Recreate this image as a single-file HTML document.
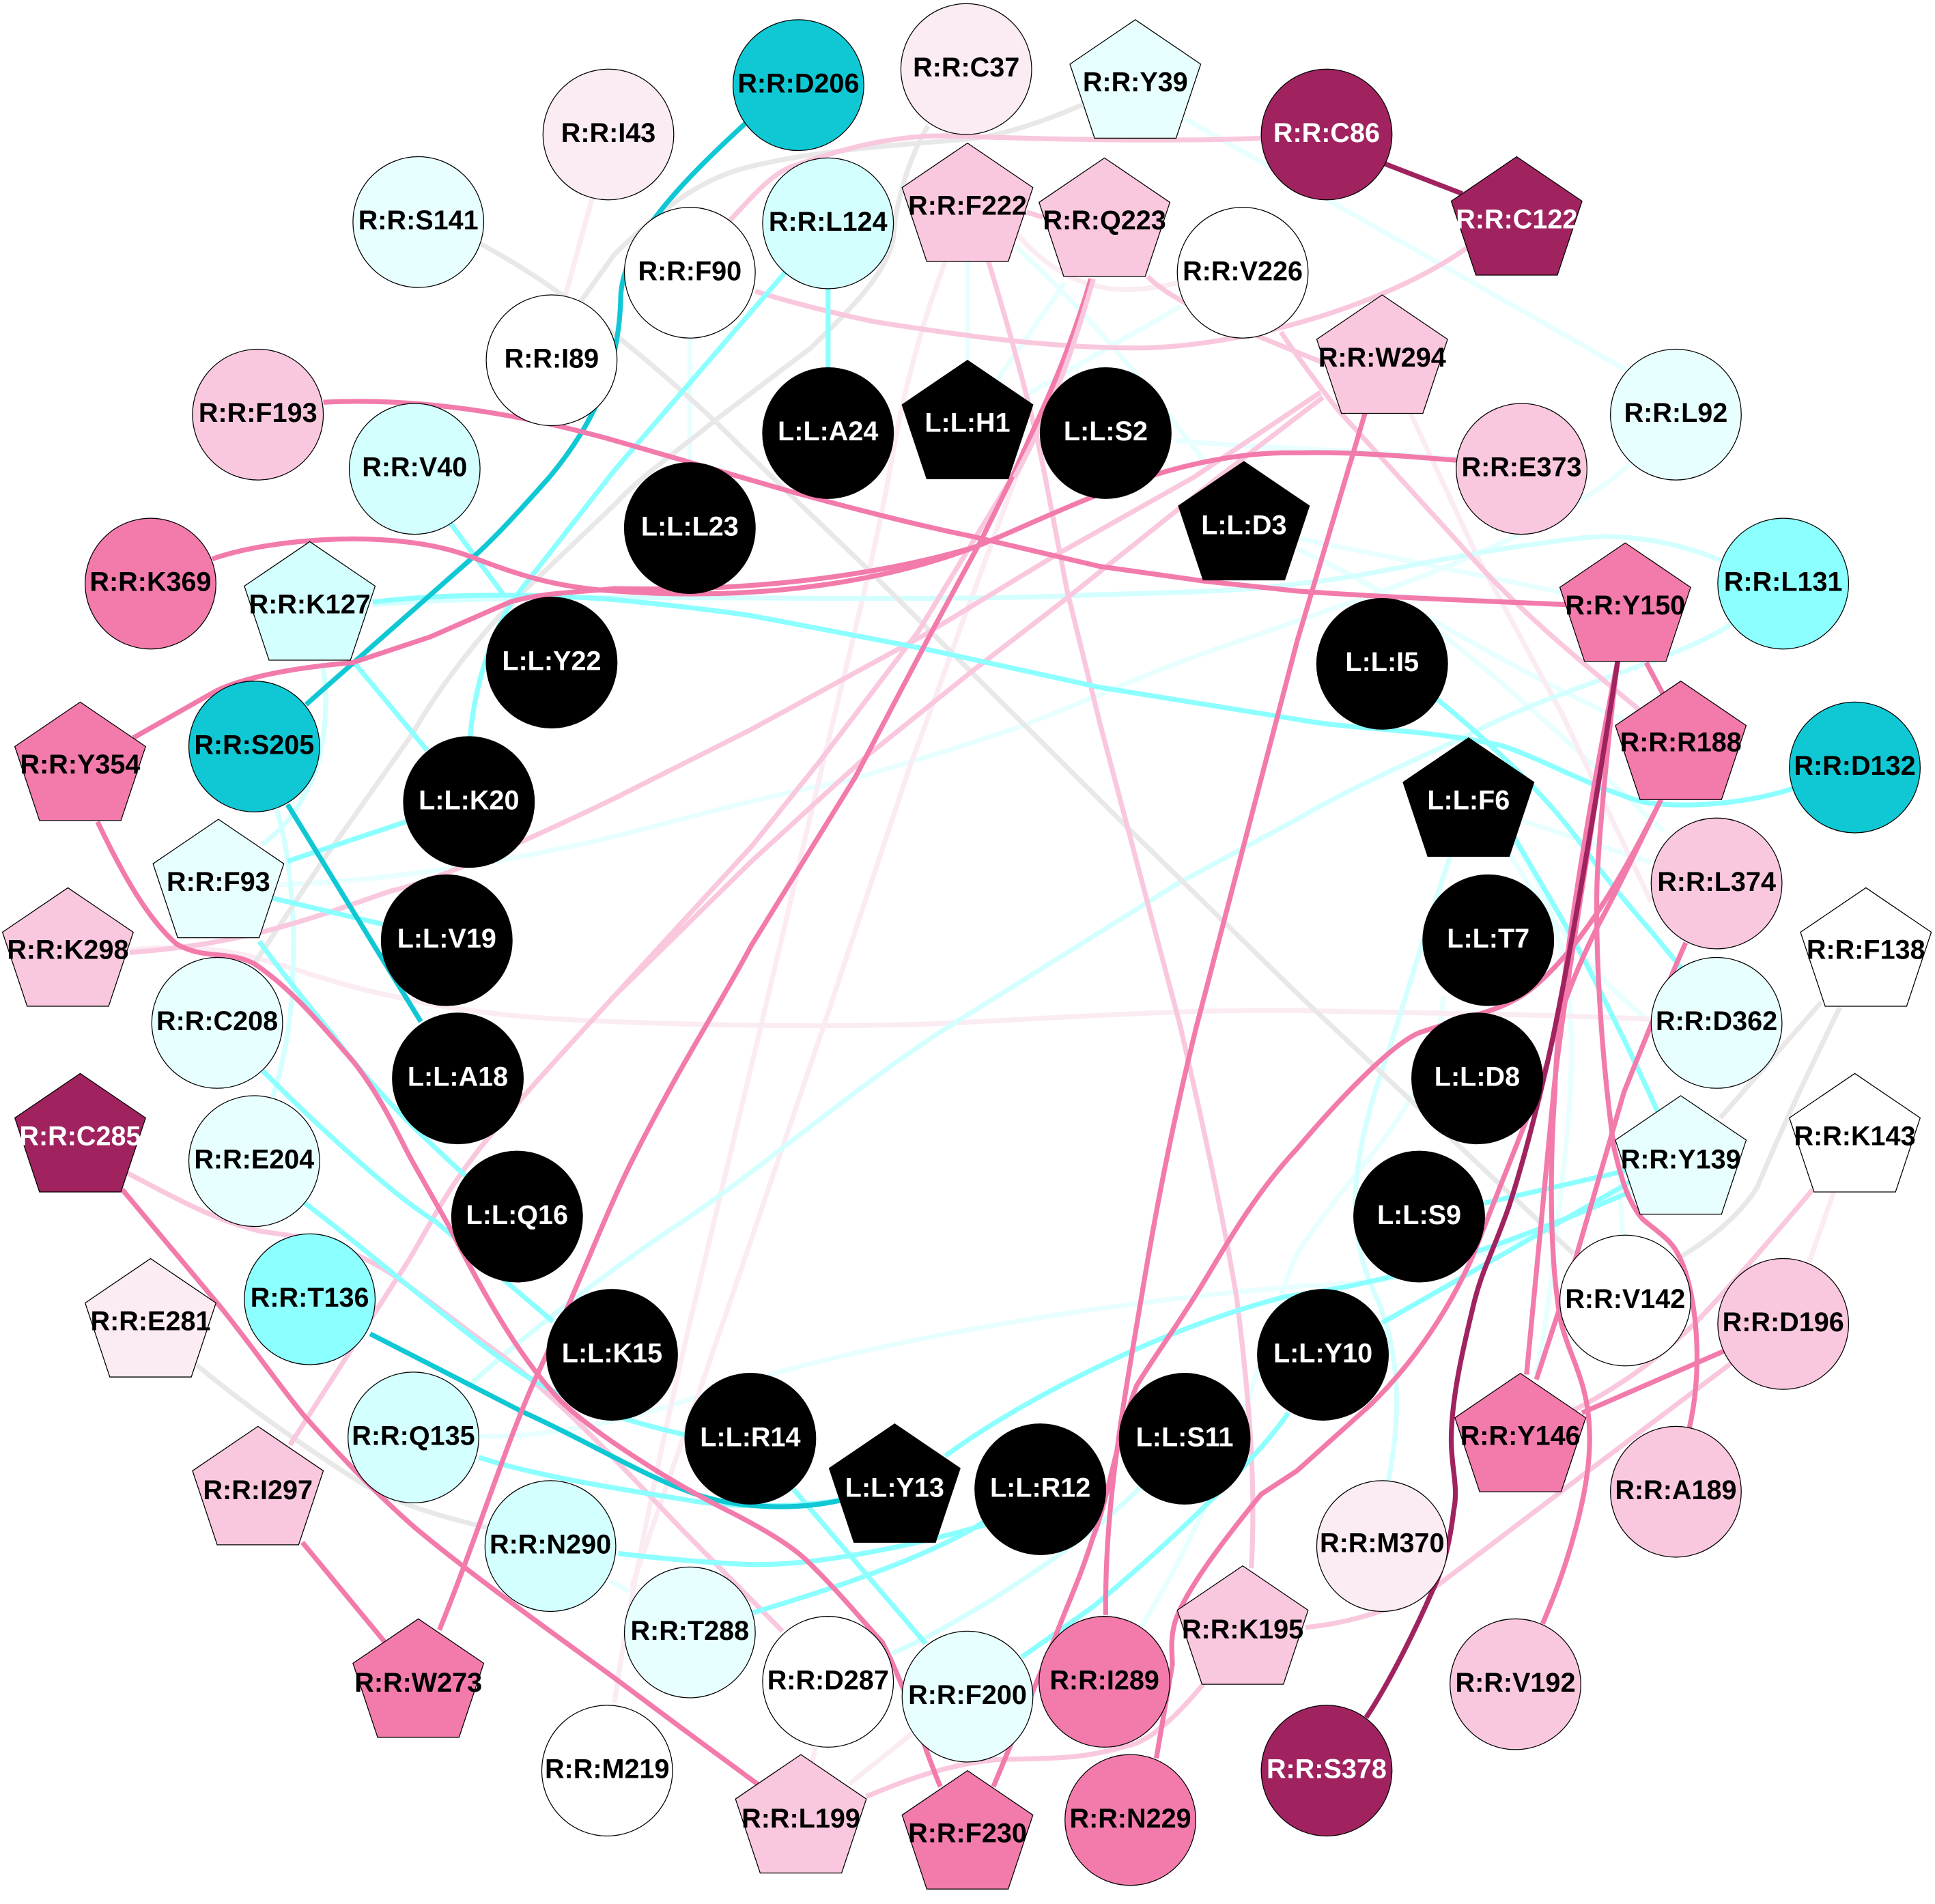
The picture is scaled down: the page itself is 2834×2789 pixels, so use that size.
<!DOCTYPE html>
<html><head><meta charset="utf-8"><style>
html,body{margin:0;padding:0;background:#fff}
svg{display:block}
text{font-family:"Liberation Sans",sans-serif;font-weight:bold;font-size:21.9px;text-anchor:middle;fill:#000}
text.w{fill:#fff}
.e path{fill:none;stroke-width:4}
circle,use{stroke:#000;stroke-width:.7}
.D{fill:#a02360}.M{fill:#f27bac}.P{fill:#f9c8de}.V{fill:#fbebf3}.N{fill:#fff}.X{fill:#e8ffff}.L{fill:#d4ffff}.C{fill:#8cffff}.T{fill:#10c8d4}.K{fill:#000}
</style></head><body>
<svg xmlns="http://www.w3.org/2000/svg" width="2834" height="2789" viewBox="0 0 1568 1543.1">
<defs><polygon id="p" points="0,-50 53,-14 33,46 -33,46 -53,-14"/></defs>
<rect width="1568" height="1544" fill="#fff"/>

<g class="e" stroke="#e8ffff">
<path d="M559,272L559,375"/>
<path d="M784,212L784,292"/>
<path d="M960,96L1318,300"/>
<path d="M957,248L823,325"/>
<path d="M863,229L808,308"/>
<path d="M823,200Q900,270 981,381"/>
<path d="M953,357C1000,362 1100,365 1182,372"/>
<path d="M1051,436L1265,480"/>
<path d="M1051,445C1127,478 1216,540 1321,586"/>
<path d="M1100,470C1163,498 1282,611 1348,674"/>
<path d="M1233,665L1338,699"/>
<path d="M1223,692C1262,755 1300,800 1340,830"/>
<path d="M1225,680C1290,770 1275,880 1262,991C1256,1050 1250,1090 1245,1114"/>
<path d="M1311,938L1315,1000"/>
<path d="M226,717C317,714 413,698 498,678C560,662 620,645 685,633C730,620 780,605 829,588C870,572 910,555 947,540C985,525 1020,515 1051,503C1150,470 1260,430 1321,376"/>
<path d="M388,1164C420,1165 480,1160 553,1136C700,1085 900,1055 1058,1042C1134,1040 1183,1030 1321,964"/>
<path d="M494,1281L510,1290"/>
<path d="M1170,807C1160,900 1100,940 1051,1016C1030,1060 1010,1180 925,1318"/>
</g>
<g class="e" stroke="#fbebf3">
<path d="M480,160L458,240"/>
<path d="M766,212C740,280 728,340 720,387C705,470 670,600 645,712L617,830L564,1051C545,1130 510,1290 498,1380"/>
<path d="M884,226C860,310 845,340 823,387L789,480C770,530 755,575 738,619L668,830L593,1051L512,1286"/>
<path d="M821,186C845,215 870,230 900,234C920,236 940,233 960,228"/>
<path d="M1143,335L1199,455L1266,579L1338,731"/>
<path d="M105,770C140,766 175,768 203,775C240,785 280,800 317,807C380,822 440,826 498,828C600,832 680,832 750,830C860,825 950,818 1051,819C1150,821 1250,822 1338,826"/>
<path d="M1486,966L1466,1023"/>
<path d="M739,1405L688,1446"/>
<path d="M661,1416L658,1428"/>
</g>
<g class="e" stroke="#d4ffff">
<path d="M1404,505C1360,535 1270,555 1199,591C1150,615 1100,635 1051,664L956,715L772,830C700,875 620,945 553,990C500,1025 420,1085 378,1125"/>
<path d="M302,490C450,478 700,490 891,482C950,480 1000,480 1051,473C1110,468 1183,447 1282,436C1320,432 1360,440 1394,454"/>
<path d="M1175,694C1150,770 1130,840 1114,885C1095,950 1090,1000 1117,1055C1135,1100 1135,1150 1125,1200"/>
<path d="M224,656C235,690 240,750 237,793C236,830 230,860 221,889"/>
<path d="M261,537C268,570 262,620 248,641C240,660 225,675 213,684"/>
<path d="M723,1340C770,1320 850,1270 902,1226C920,1210 935,1195 950,1180"/>
</g>
<g class="e" stroke="#e8e8e8">
<path d="M877,85C830,105 800,112 780,113C720,118 660,122 604,136C570,145 540,165 498,206L470,245"/>
<path d="M752,102C735,130 725,170 724,192C720,220 690,250 657,282L579,341C550,365 520,385 498,409L413,490C390,515 360,550 334,595L264,694L206,781"/>
<path d="M388,197Q470,240 579,341L626,387L705,463L913,670L1051,805L1275,1016"/>
<path d="M1476,812L1394,906"/>
<path d="M1491,816C1470,860 1450,900 1424,962C1410,985 1385,1005 1361,1019"/>
<path d="M159,1106C200,1140 250,1175 293,1202C325,1220 360,1230 395,1238"/>
</g>
<g class="e" stroke="#f9c8de">
<path d="M1022,112C950,115 851,113 766,110C720,110 681,121 639,136C620,145 605,165 591,179"/>
<path d="M612,236C640,245 680,255 710,261C780,272 850,282 921,282C1000,282 1120,250 1190,200"/>
<path d="M832,172L845,176"/>
<path d="M801,212C825,290 840,350 847,387L865,480L891,585L956,830C970,890 990,980 1002,1051C1012,1130 1018,1200 1014,1271"/>
<path d="M930,224C950,245 1000,265 1075,295"/>
<path d="M1038,269C1055,295 1084,332 1084,332L1183,441C1230,495 1280,535 1328,575"/>
<path d="M884,226C860,310 845,340 820,387L744,512L665,616L609,686L498,807C440,870 400,915 381,941C355,975 340,1010 321,1037L235,1171"/>
<path d="M1072,322L987,387L863,486L789,543L702,613L609,698L498,807"/>
<path d="M1070,318L967,387L857,449L750,514L609,591L498,647C430,680 350,715 317,722C250,745 200,765 105,772"/>
<path d="M102,950C140,970 176,990 212,998C240,1002 275,1005 318,1033C350,1055 380,1080 406,1098C460,1140 510,1195 553,1240L634,1322"/>
<path d="M1404,1104L1282,1196L1166,1284C1130,1305 1095,1315 1058,1319"/>
<path d="M1469,964C1430,1010 1400,1045 1374,1072C1350,1095 1320,1120 1275,1143"/>
<path d="M975,1365C950,1395 930,1412 913,1415C880,1425 860,1425 808,1426C770,1430 740,1440 702,1456"/>
</g>
<g class="e" stroke="#8cffff">
<path d="M671,232L671,300"/>
<path d="M636,221L498,381L419,482C402,505 385,550 381,597"/>
<path d="M365,424L408,482"/>
<path d="M287,537L346,608"/>
<path d="M302,488C350,482 420,480 498,486C540,490 575,494 609,499L750,526L891,557L1051,583C1100,592 1150,590 1216,604C1250,615 1282,635 1331,650C1370,656 1420,650 1453,639"/>
<path d="M1165,567C1199,595 1250,640 1282,685C1310,725 1340,755 1364,787"/>
<path d="M1225,675C1245,710 1270,750 1292,794C1310,830 1325,860 1345,905"/>
<path d="M329,666L233,698"/>
<path d="M310,749L221,728"/>
<path d="M210,763C230,790 250,815 270,839C300,880 335,915 385,960"/>
<path d="M213,868C260,915 320,970 353,990L448,1071"/>
<path d="M247,975C300,1015 380,1085 423,1113C459,1136 500,1150 556,1163"/>
<path d="M388,1181C430,1195 490,1205 553,1215C590,1222 640,1222 681,1216"/>
<path d="M501,1259C550,1265 600,1268 614,1268C670,1268 750,1250 801,1235"/>
<path d="M610,1307C650,1295 750,1265 801,1231"/>
<path d="M643,1207L750,1332"/>
<path d="M766,1180C820,1140 930,1080 1041,1051C1120,1040 1190,1022 1321,966"/>
<path d="M1120,1072L1321,958"/>
<path d="M1203,975L1321,948"/>
<path d="M1044,1145C1020,1180 960,1240 886,1302L828,1343"/>
</g>
<g class="e" stroke="#10c8d4">
<path d="M604,100C555,145 505,195 503,240C502,300 480,345 445,387C420,415 400,437 384,451L248,571"/>
<path d="M233,652L341,828"/>
<path d="M300,1081L423,1144C470,1165 520,1195 556,1208C590,1222 640,1225 681,1216"/>
</g>
<g class="e" stroke="#f27bac">
<path d="M262,326C340,322 420,335 498,357L636,397C690,412 740,425 789,435L891,459L976,471L1051,479C1120,484 1200,487 1269,490"/>
<path d="M172,453C220,436 320,428 381,451C420,466 450,476 498,479C620,488 720,470 791,443C860,415 950,365 1051,367C1100,366 1140,370 1180,373"/>
<path d="M108,598L175,560C200,548 240,541 286,537L349,516L413,488C440,480 470,480 498,477C620,480 720,464 791,443"/>
<path d="M79,666C100,710 120,745 143,765C165,778 185,770 206,781C235,800 260,830 286,860C310,890 325,925 334,941L364,994C390,1045 420,1100 455,1136C480,1160 540,1200 595,1227C620,1240 640,1252 653,1264C680,1290 700,1315 715,1331C735,1370 750,1420 762,1448"/>
<path d="M99,964L176,1056C200,1085 230,1128 247,1148C280,1185 310,1215 335,1237C380,1275 450,1325 498,1360L553,1401L614,1446"/>
<path d="M245,1250L312,1331"/>
<path d="M356,1321C385,1250 410,1170 434,1117C470,1040 490,985 512,941C550,865 580,820 609,766L693,630L755,512L795,438L820,387C850,320 865,290 884,226"/>
<path d="M1107,332L1051,520L970,830C950,910 935,990 925,1051C910,1140 895,1220 896,1309"/>
<path d="M1334,537L1350,567"/>
<path d="M1346,648C1330,680 1290,760 1245,798C1220,820 1193,822 1150,837C1130,845 1090,885 1051,931C1010,975 985,1025 968,1051C950,1080 935,1100 921,1123C905,1165 898,1215 886,1245C875,1280 865,1300 855,1327L805,1448"/>
<path d="M1346,648C1330,680 1315,713 1295,750C1275,790 1260,830 1254,861L1236,910L1193,1019C1170,1070 1140,1110 1110,1139L1051,1192L1022,1211C990,1250 960,1290 952,1315C948,1330 950,1340 950,1349L937,1425"/>
<path d="M1311,535C1295,640 1265,820 1259,885L1237,1114"/>
<path d="M1311,535C1290,640 1262,800 1260,885C1256,940 1255,1020 1265,1072C1272,1100 1287,1120 1288,1160C1290,1205 1270,1270 1250,1316"/>
<path d="M1311,535C1305,580 1295,680 1294,720C1293,780 1298,860 1308,931C1315,960 1320,975 1331,988C1345,1000 1355,1005 1361,1019C1372,1040 1382,1100 1369,1157"/>
<path d="M1366,764C1350,800 1330,850 1316,885L1275,1026L1245,1118"/>
<path d="M1397,1095L1282,1145"/>
</g>
<g class="e" stroke="#f9c8de">
<path d="M886,226C862,310 847,340 822,387"/>
</g>
<g class="e" stroke="#a02360">
<path d="M1115,130L1185,157"/>
<path d="M1311,535C1295,640 1270,790 1254,861C1245,900 1235,940 1223,977C1210,1015 1200,1030 1193,1062C1185,1095 1176,1135 1176,1167C1176,1190 1182,1205 1178,1224C1175,1250 1170,1270 1160,1291C1145,1325 1125,1365 1107,1392"/>
</g>

<!-- nodes -->
<circle class="T" cx="647" cy="69" r="53"/><text x="647" y="75">R:R:D206</text>
<circle class="V" cx="783" cy="56" r="53"/><text x="783" y="62">R:R:C37</text>
<use href="#p" class="X" x="920" y="66"/><text x="920" y="74">R:R:Y39</text>
<circle class="D" cx="1075" cy="109" r="53"/><text class="w" x="1075" y="115">R:R:C86</text>
<use href="#p" class="D" x="1229" y="177"/><text class="w" x="1229" y="185">R:R:C122</text>
<circle class="V" cx="493" cy="109" r="53"/><text x="493" y="115">R:R:I43</text>
<circle class="X" cx="339" cy="180" r="53"/><text x="339" y="186">R:R:S141</text>
<circle class="L" cx="671" cy="181" r="53"/><text x="671" y="187">R:R:L124</text>
<use href="#p" class="P" x="784" y="166"/><text x="784" y="174">R:R:F222</text>
<use href="#p" class="P" x="895" y="178"/><text x="895" y="186">R:R:Q223</text>
<circle class="N" cx="559" cy="221" r="53"/><text x="559" y="227">R:R:F90</text>
<circle class="N" cx="1007" cy="221" r="53"/><text x="1007" y="227">R:R:V226</text>
<circle class="N" cx="447" cy="292" r="53"/><text x="447" y="298">R:R:I89</text>
<use href="#p" class="P" x="1120" y="289"/><text x="1120" y="297">R:R:W294</text>
<circle class="X" cx="1358" cy="336" r="53"/><text x="1358" y="342">R:R:L92</text>
<circle class="P" cx="209" cy="336" r="53"/><text x="209" y="342">R:R:F193</text>
<circle class="L" cx="336" cy="380" r="53"/><text x="336" y="386">R:R:V40</text>
<circle class="P" cx="1233" cy="380" r="53"/><text x="1233" y="386">R:R:E373</text>
<circle class="M" cx="122" cy="473" r="53"/><text x="122" y="479">R:R:K369</text>
<circle class="C" cx="1445" cy="473" r="53"/><text x="1445" y="479">R:R:L131</text>
<use href="#p" class="L" x="251" y="489"/><text x="251" y="497">R:R:K127</text>
<use href="#p" class="M" x="1317" y="490"/><text x="1317" y="498">R:R:Y150</text>
<use href="#p" class="M" x="65" y="619"/><text x="65" y="627">R:R:Y354</text>
<circle class="T" cx="206" cy="605" r="53"/><text x="206" y="611">R:R:S205</text>
<use href="#p" class="M" x="1362" y="602"/><text x="1362" y="609">R:R:R188</text>
<circle class="T" cx="1503" cy="622" r="53"/><text x="1503" y="628">R:R:D132</text>
<use href="#p" class="X" x="177" y="714"/><text x="177" y="722">R:R:F93</text>
<circle class="P" cx="1391" cy="716" r="53"/><text x="1391" y="722">R:R:L374</text>
<use href="#p" class="P" x="55" y="769.500"/><text x="55" y="777">R:R:K298</text>
<use href="#p" class="N" x="1512" y="769.500"/><text x="1512" y="777">R:R:F138</text>
<circle class="X" cx="176" cy="829" r="53"/><text x="176" y="835">R:R:C208</text>
<circle class="X" cx="1391" cy="829" r="53"/><text x="1391" y="835">R:R:D362</text>
<use href="#p" class="D" x="65" y="920"/><text class="w" x="65" y="928">R:R:C285</text>
<use href="#p" class="N" x="1503" y="920"/><text x="1503" y="928">R:R:K143</text>
<circle class="X" cx="206" cy="941" r="53"/><text x="206" y="947">R:R:E204</text>
<use href="#p" class="X" x="1362" y="938"/><text x="1362" y="947">R:R:Y139</text>
<circle class="C" cx="251" cy="1053" r="53"/><text x="251" y="1059">R:R:T136</text>
<circle class="N" cx="1317" cy="1054" r="53"/><text x="1317" y="1060">R:R:V142</text>
<use href="#p" class="V" x="122" y="1070"/><text x="122" y="1078">R:R:E281</text>
<circle class="P" cx="1445" cy="1073" r="53"/><text x="1445" y="1079">R:R:D196</text>
<circle class="L" cx="335" cy="1165" r="53"/><text x="335" y="1171">R:R:Q135</text>
<use href="#p" class="M" x="1232" y="1163"/><text x="1232" y="1171">R:R:Y146</text>
<circle class="P" cx="1358" cy="1209" r="53"/><text x="1358" y="1215">R:R:A189</text>
<use href="#p" class="P" x="209" y="1206"/><text x="209" y="1215">R:R:I297</text>
<circle class="L" cx="446" cy="1253" r="53"/><text x="446" y="1259">R:R:N290</text>
<circle class="V" cx="1120" cy="1253" r="53"/><text x="1120" y="1258">R:R:M370</text>
<circle class="X" cx="559" cy="1323" r="53"/><text x="559" y="1329">R:R:T288</text>
<use href="#p" class="P" x="1007" y="1319"/><text x="1007" y="1328">R:R:K195</text>
<circle class="N" cx="671" cy="1363" r="53"/><text x="671" y="1369">R:R:D287</text>
<circle class="P" cx="1228" cy="1365" r="53"/><text x="1228" y="1371">R:R:V192</text>
<use href="#p" class="M" x="339" y="1362"/><text x="339" y="1371">R:R:W273</text>
<circle class="X" cx="784" cy="1375" r="53"/><text x="784" y="1381">R:R:F200</text>
<circle class="M" cx="895" cy="1363" r="53"/><text x="895" y="1369">R:R:I289</text>
<circle class="N" cx="492" cy="1435" r="53"/><text x="492" y="1441">R:R:M219</text>
<circle class="D" cx="1075" cy="1435" r="53"/><text class="w" x="1075" y="1441">R:R:S378</text>
<use href="#p" class="P" x="649" y="1472"/><text x="649" y="1481">R:R:L199</text>
<use href="#p" class="M" x="784" y="1485"/><text x="784" y="1493">R:R:F230</text>
<circle class="M" cx="916" cy="1475" r="53"/><text x="916" y="1481">R:R:N229</text>

<circle class="K" cx="671" cy="351" r="53"/><text class="w" x="671" y="357">L:L:A24</text>
<use href="#p" class="K" x="784" y="342"/><text class="w" x="784" y="350">L:L:H1</text>
<circle class="K" cx="896" cy="351" r="53"/><text class="w" x="896" y="357">L:L:S2</text>
<circle class="K" cx="559" cy="428" r="53"/><text class="w" x="559" y="434">L:L:L23</text>
<use href="#p" class="K" x="1008" y="424"/><text class="w" x="1008" y="433">L:L:D3</text>
<circle class="K" cx="447" cy="537" r="53"/><text class="w" x="447" y="543">L:L:Y22</text>
<circle class="K" cx="1120" cy="538" r="53"/><text class="w" x="1120" y="544">L:L:I5</text>
<circle class="K" cx="380" cy="650" r="53"/><text class="w" x="380" y="656">L:L:K20</text>
<use href="#p" class="K" x="1190" y="648"/><text class="w" x="1190" y="656">L:L:F6</text>
<circle class="K" cx="362" cy="762" r="53"/><text class="w" x="362" y="768">L:L:V19</text>
<circle class="K" cx="1206" cy="762" r="53"/><text class="w" x="1206" y="768">L:L:T7</text>
<circle class="K" cx="371" cy="874" r="53"/><text class="w" x="371" y="880">L:L:A18</text>
<circle class="K" cx="1197" cy="874" r="53"/><text class="w" x="1197" y="880">L:L:D8</text>
<circle class="K" cx="419" cy="986" r="53"/><text class="w" x="419" y="992">L:L:Q16</text>
<circle class="K" cx="1150" cy="986" r="53"/><text class="w" x="1150" y="992">L:L:S9</text>
<circle class="K" cx="496" cy="1098" r="53"/><text class="w" x="496" y="1104">L:L:K15</text>
<circle class="K" cx="1072" cy="1098" r="53"/><text class="w" x="1072" y="1104">L:L:Y10</text>
<circle class="K" cx="608" cy="1166" r="53"/><text class="w" x="608" y="1172">L:L:R14</text>
<circle class="K" cx="960" cy="1166" r="53"/><text class="w" x="960" y="1172">L:L:S11</text>
<use href="#p" class="K" x="725" y="1204"/><text class="w" x="725" y="1213">L:L:Y13</text>
<circle class="K" cx="843" cy="1207" r="53"/><text class="w" x="843" y="1213">L:L:R12</text>
</svg>
</body></html>
